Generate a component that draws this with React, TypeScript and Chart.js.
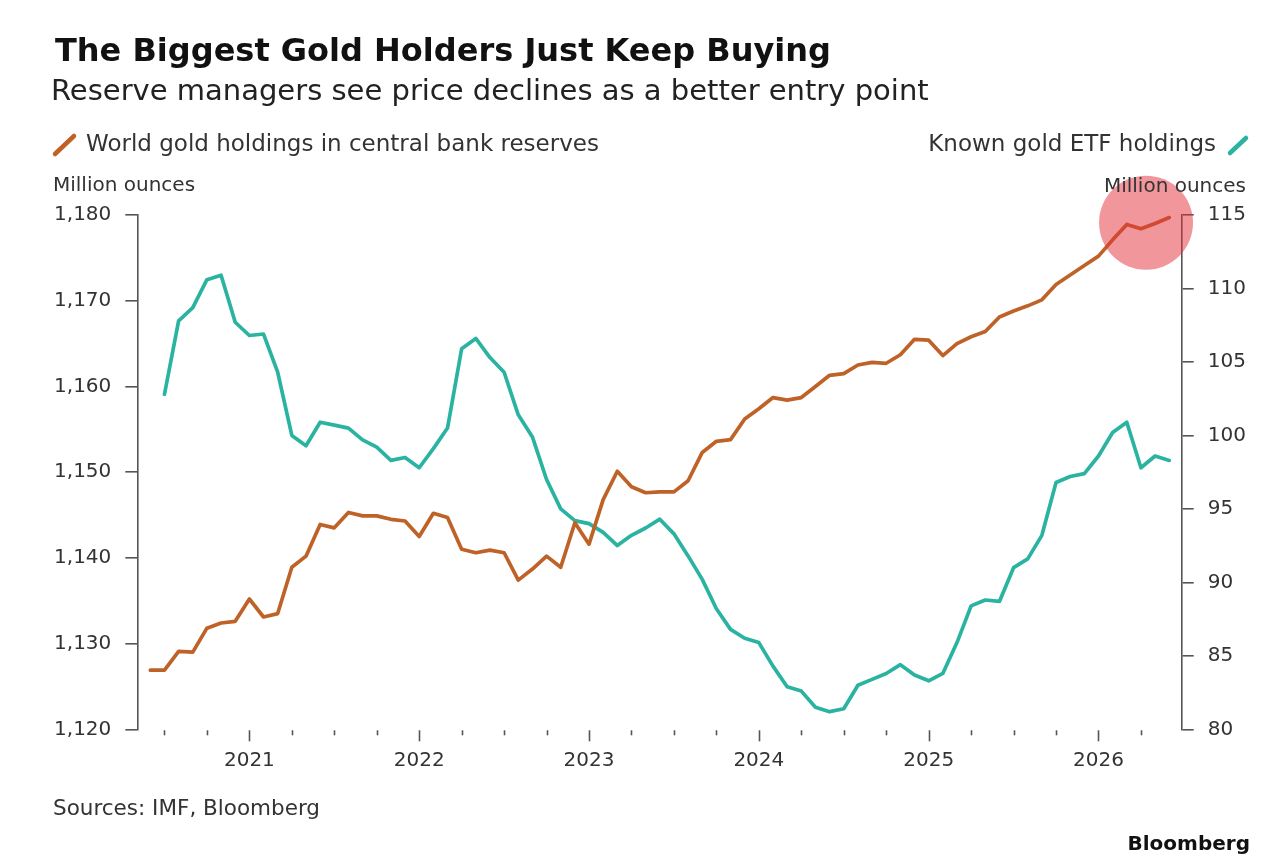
import React, { useEffect, useRef } from "react";
import { Chart, registerables } from "chart.js";

Chart.register(...registerables);

// ---------- data ----------
const months = [
  "2020-06", "2020-07", "2020-08", "2020-09", "2020-10", "2020-11", "2020-12",
  "2021-01", "2021-02", "2021-03", "2021-04", "2021-05", "2021-06", "2021-07", "2021-08", "2021-09", "2021-10", "2021-11", "2021-12",
  "2022-01", "2022-02", "2022-03", "2022-04", "2022-05", "2022-06", "2022-07", "2022-08", "2022-09", "2022-10", "2022-11", "2022-12",
  "2023-01", "2023-02", "2023-03", "2023-04", "2023-05", "2023-06", "2023-07", "2023-08", "2023-09", "2023-10", "2023-11", "2023-12",
  "2024-01", "2024-02", "2024-03", "2024-04", "2024-05", "2024-06", "2024-07", "2024-08", "2024-09", "2024-10", "2024-11", "2024-12",
  "2025-01", "2025-02", "2025-03", "2025-04", "2025-05", "2025-06", "2025-07", "2025-08", "2025-09", "2025-10", "2025-11", "2025-12",
  "2026-01", "2026-02", "2026-03", "2026-04", "2026-05", "2026-06",
];

// World gold holdings in central bank reserves (million ounces, left axis)
const centralBankHoldings = [
  1126.9, 1126.9, 1129.1, 1129.0, 1131.8, 1132.4, 1132.6,
  1135.2, 1133.1, 1133.5, 1138.9, 1140.2, 1143.9, 1143.5, 1145.3, 1144.9, 1144.9, 1144.5, 1144.3,
  1142.5, 1145.2, 1144.7, 1141.0, 1140.6, 1140.9, 1140.6, 1137.4, 1138.7, 1140.2, 1138.9, 1144.1,
  1141.6, 1146.8, 1150.1, 1148.3, 1147.6, 1147.7, 1147.7, 1149.0, 1152.3, 1153.6, 1153.8, 1156.2,
  1157.4, 1158.7, 1158.4, 1158.7, 1160.0, 1161.3, 1161.5, 1162.5, 1162.8, 1162.7, 1163.7, 1165.5,
  1165.4, 1163.6, 1165.0, 1165.8, 1166.4, 1168.1, 1168.8, 1169.4, 1170.1, 1171.9, 1173.0, 1174.1,
  1175.2, 1177.1, 1178.9, 1178.4, 1179.0, 1179.7,
];

// Known gold ETF holdings (million ounces, right axis)
const etfHoldings = [
  null, 102.8, 107.8, 108.7, 110.6, 110.9, 107.7,
  106.8, 106.9, 104.3, 100.0, 99.3, 100.9, 100.7, 100.5, 99.7, 99.2, 98.3, 98.5,
  97.8, 99.1, 100.5, 105.9, 106.6, 105.3, 104.3, 101.4, 99.9, 97.0, 95.0, 94.2,
  94.0, 93.4, 92.5, 93.2, 93.7, 94.3, 93.3, 91.8, 90.2, 88.2, 86.8, 86.2,
  85.9, 84.3, 82.9, 82.6, 81.5, 81.2, 81.4, 83.0, 83.4, 83.8, 84.4, 83.7,
  83.3, 83.8, 85.9, 88.4, 88.8, 88.7, 91.0, 91.6, 93.2, 96.8, 97.2, 97.4,
  98.6, 100.2, 100.9, 97.8, 98.6, 98.3,
];

const leftTicks = { min: 1120, max: 1180, step: 10 };
const rightTicks = { min: 80, max: 115, step: 5 };
const xRange = { min: 2020.34, max: 2026.49 };
const quarterTicks = [
  2020.5, 2020.75,
  2021, 2021.25, 2021.5, 2021.75,
  2022, 2022.25, 2022.5, 2022.75,
  2023, 2023.25, 2023.5, 2023.75,
  2024, 2024.25, 2024.5, 2024.75,
  2025, 2025.25, 2025.5, 2025.75,
  2026, 2026.25,
];
const highlight = { x: 2026.28, y: 1179.1 };

// ---------- styles ----------
const FONT = '"DejaVu Sans", Verdana, sans-serif';
const ORANGE = "#bf6228";
const TEAL = "#2bb3a2";
const AXIS = "#555555";
const TEXT = "#333333";

const toX = (m: string) => {
  const [y, mo] = m.split("-").map(Number);
  return y + (mo - 1) / 12;
};

const decorPlugin = {
  id: "decor",
  afterDatasetsDraw(chart: any) {
    const { ctx, scales } = chart;
    const cx = scales.x.getPixelForValue(highlight.x);
    const cy = scales.y.getPixelForValue(highlight.y);
    ctx.save();
    ctx.fillStyle = "rgba(228, 48, 58, 0.5)";
    ctx.beginPath();
    ctx.arc(cx, cy, 47, 0, Math.PI * 2);
    ctx.fill();
    ctx.restore();
  },
  afterDraw(chart: any) {
    const { ctx, scales, chartArea } = chart;
    const xs = scales.x;
    ctx.save();
    ctx.strokeStyle = AXIS;
    ctx.lineWidth = 1.6;
    xs.ticks.forEach((t: any) => {
      const px = Math.round(xs.getPixelForValue(t.value)) + 0.5;
      const isYear = Number.isInteger(t.value);
      ctx.beginPath();
      ctx.moveTo(px, chartArea.bottom + 1);
      ctx.lineTo(px, chartArea.bottom + (isYear ? 12 : 6));
      ctx.stroke();
    });
    ctx.restore();
  },
};

export default function App() {
  const canvasRef = useRef<HTMLCanvasElement | null>(null);

  useEffect(() => {
    if (!canvasRef.current) return;
    const chart = new Chart(canvasRef.current, {
      type: "line",
      data: {
        datasets: [
          {
            label: "World gold holdings in central bank reserves",
            data: centralBankHoldings.map((v, i) => ({ x: toX(months[i]), y: v })),
            borderColor: ORANGE,
            borderWidth: 3.7,
            pointRadius: 0,
            tension: 0,
            borderJoinStyle: "round",
            borderCapStyle: "round",
            yAxisID: "y",
          },
          {
            label: "Known gold ETF holdings",
            data: etfHoldings.map((v, i) => ({ x: toX(months[i]), y: v })),
            borderColor: TEAL,
            borderWidth: 3.7,
            pointRadius: 0,
            tension: 0,
            borderJoinStyle: "round",
            borderCapStyle: "round",
            spanGaps: false,
            yAxisID: "y1",
          },
        ],
      },
      options: {
        animation: false,
        responsive: true,
        maintainAspectRatio: false,
        devicePixelRatio: 1,
        layout: { padding: { top: 215, bottom: 866 - 729.3 - 60, left: 0, right: 0 } },
        plugins: {
          legend: { display: false },
          tooltip: { enabled: false },
          title: { display: false },
        },
        scales: {
          x: {
            type: "linear",
            min: xRange.min,
            max: xRange.max,
            afterBuildTicks: (s: any) => {
              s.ticks = quarterTicks.map((v) => ({ value: v }));
            },
            afterFit: (s: any) => {
              s.height = 60;
            },
            grid: { display: false, drawTicks: false },
            border: { display: false },
            ticks: {
              autoSkip: false,
              maxRotation: 0,
              minRotation: 0,
              padding: 19,
              color: TEXT,
              font: { family: FONT, size: 20 },
              callback: (v: any) => (Number.isInteger(v) ? String(v) : ""),
            },
          },
          y: {
            position: "left",
            min: leftTicks.min,
            max: leftTicks.max,
            afterFit: (s: any) => {
              s.width = 137.3;
            },
            grid: {
              drawOnChartArea: false,
              drawTicks: true,
              tickLength: 12,
              color: AXIS,
              lineWidth: 1.6,
            },
            border: { display: true, color: AXIS, width: 1.6 },
            ticks: {
              stepSize: leftTicks.step,
              padding: 14,
              color: TEXT,
              font: { family: FONT, size: 20 },
              callback: (v: any) => Number(v).toLocaleString("en-US"),
            },
          },
          y1: {
            position: "right",
            min: rightTicks.min,
            max: rightTicks.max,
            afterFit: (s: any) => {
              s.width = 1280 - 1181.7;
            },
            grid: {
              drawOnChartArea: false,
              drawTicks: true,
              tickLength: 12,
              color: AXIS,
              lineWidth: 1.6,
            },
            border: { display: true, color: AXIS, width: 1.6 },
            ticks: {
              stepSize: rightTicks.step,
              padding: 14,
              color: TEXT,
              font: { family: FONT, size: 20 },
            },
          },
        },
      },
      plugins: [decorPlugin],
    } as any);
    return () => chart.destroy();
  }, []);

  const abs = (s: React.CSSProperties): React.CSSProperties => ({
    position: "absolute",
    whiteSpace: "nowrap",
    lineHeight: 1,
    fontFamily: FONT,
    ...s,
  });

  return (
    <div
      style={{
        position: "absolute",
        left: 0,
        top: 0,
        width: 1280,
        height: 866,
        background: "#ffffff",
        overflow: "hidden",
      }}
    >
      <div style={{ position: "absolute", left: 0, top: 0, width: 1280, height: 866 }}>
        <canvas ref={canvasRef} />
      </div>

      <div style={abs({ left: 55, top: 34, fontSize: 32, fontWeight: 700, color: "#111" })}>
        The Biggest Gold Holders Just Keep Buying
      </div>
      <div style={abs({ left: 51, top: 76, fontSize: 29, color: "#222" })}>
        Reserve managers see price declines as a better entry point
      </div>

      <svg style={{ position: "absolute", left: 51, top: 132 }} width={28} height={26}>
        <line x1={4} y1={22} x2={23} y2={4} stroke={ORANGE} strokeWidth={4.5} strokeLinecap="round" />
      </svg>
      <div style={abs({ left: 86, top: 132, fontSize: 23, color: TEXT })}>
        World gold holdings in central bank reserves
      </div>

      <div style={abs({ right: 1280 - 1216, top: 132, fontSize: 23, color: TEXT })}>
        Known gold ETF holdings
      </div>
      <svg style={{ position: "absolute", left: 1226, top: 133 }} width={26} height={24}>
        <line x1={4} y1={20} x2={20} y2={5} stroke={TEAL} strokeWidth={4.5} strokeLinecap="round" />
      </svg>

      <div style={abs({ left: 53, top: 174, fontSize: 20, color: TEXT })}>Million ounces</div>
      <div style={abs({ right: 1280 - 1246, top: 175, fontSize: 20, color: TEXT, zIndex: 2 })}>
        Million ounces
      </div>

      <div style={abs({ left: 53, top: 797, fontSize: 21.5, color: TEXT })}>
        Sources: IMF, Bloomberg
      </div>
      <div style={abs({ right: 30, top: 833, fontSize: 20, fontWeight: 700, color: "#111" })}>
        Bloomberg
      </div>
    </div>
  );
}
